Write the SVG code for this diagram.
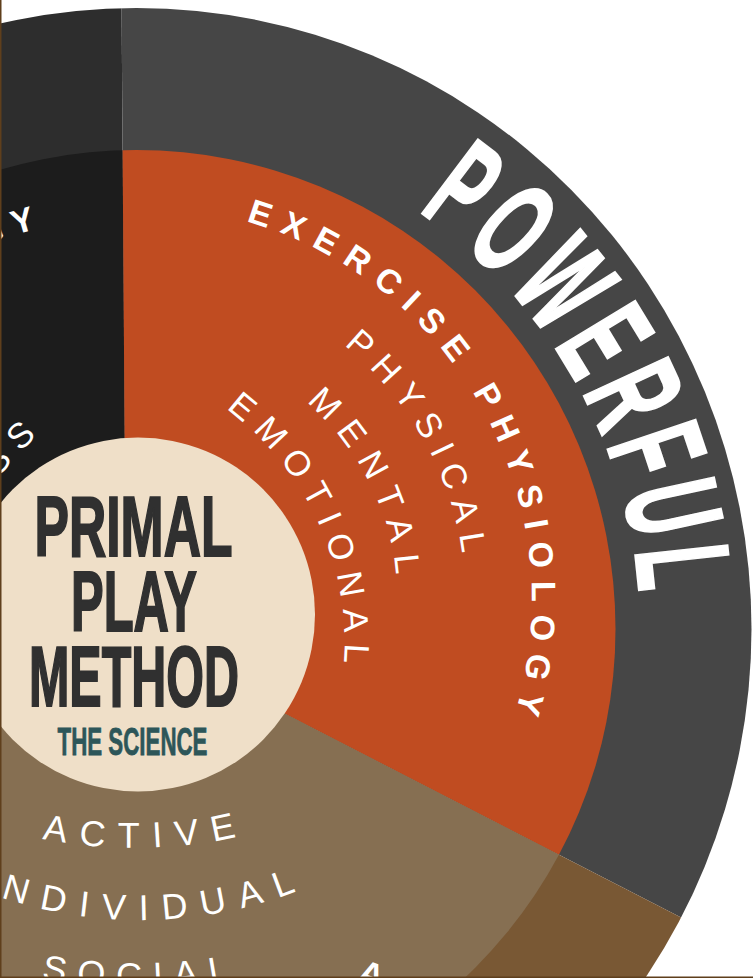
<svg xmlns="http://www.w3.org/2000/svg" width="753" height="978" viewBox="0 0 753 978">
  <defs>
    <style>
      .bold-w { fill: #ffffff; font-family: "Liberation Sans", Arial, sans-serif; font-weight: 700; }
      .thin-w { fill: #ffffff; font-family: "Liberation Sans", Arial, sans-serif; font-weight: 400; }
      .title { fill: #303030; stroke: #303030; stroke-width: 2; font-family: "Liberation Sans Narrow", "Liberation Sans", Arial, sans-serif; font-weight: 700; }
      .sub { fill: #2d5659; stroke: #2d5659; stroke-width: 0.8; font-family: "Liberation Sans Narrow", "Liberation Sans", Arial, sans-serif; font-weight: 700; }
    </style>
    <clipPath id="outerDisk"><ellipse cx="136.5" cy="629" rx="615" ry="621"/></clipPath>
    <clipPath id="innerDisk"><circle cx="136.5" cy="629" r="479"/></clipPath>
    <!-- sector wedges: left / right / bottom -->
    <path id="wedgeLeft" d="M126,632 L-100,760 L-100,-60 L121.1,-60 Z"/>
    <path id="wedgeRight" d="M126,632 L121.1,-60 L900,-60 L900,1030 Z"/>
    <path id="wedgeBottom" d="M126,632 L900,1030 L900,1100 L-100,1100 L-100,760 Z"/>
    <!-- text arcs, clockwise from the leftmost point -->
    <path id="arcHeader" d="M-255.8,600 A393.8,393.8 0 1 1 138,993.8"/>
    <path id="arcHeaderLeft" d="M-246.8,600 A384.8,384.8 0 1 1 138,984.8"/>
    <path id="arcPhysical" d="M-189.5,600 A327.5,327.5 0 1 1 138,927.5"/>
    <path id="arcMental" d="M-121.5,600 A259.5,259.5 0 1 1 138,859.5"/>
    <path id="arcEmotional" d="M-236.5,643 A290.5,290.5 0 1 1 54,933.5"/>
    <path id="arcInnerLeft" d="M-55.5,643 A277.5,277.5 0 1 1 222,920.5"/>
    <path id="arcPowerful" d="M-367.5,629 A504,504 0 1 1 136.5,1133"/>
    <!-- text arcs along the bottom, left to right -->
    <path id="arcActive" d="M-342.4,371 A477,477 0 0 0 611.6,371"/>
    <path id="arcIndividual" d="M-297.6,482 A438,438 0 0 0 578.4,482"/>
    <path id="arcSocial" d="M-388.5,462 A526,526 0 0 0 663.5,462"/>
  </defs>

  <rect width="753" height="978" fill="#ffffff"/>

  <!-- outer ring -->
  <g id="ring-outer" clip-path="url(#outerDisk)">
    <use href="#wedgeLeft" fill="#2d2d2d"/>
    <use href="#wedgeRight" fill="#464646"/>
    <use href="#wedgeBottom" fill="#795834"/>
  </g>

  <!-- inner ring -->
  <g id="ring-inner" clip-path="url(#innerDisk)">
    <use href="#wedgeLeft" fill="#1c1c1c"/>
    <use href="#wedgeRight" fill="#c04c21"/>
    <use href="#wedgeBottom" fill="#866f52"/>
  </g>

  <!-- outer ring label -->
  <g id="label-powerful">
    <text class="bold-w" font-size="134" letter-spacing="16" text-anchor="middle" stroke="#ffffff" stroke-width="2.5">
      <textPath href="#arcPowerful" startOffset="1322.5" textLength="465" lengthAdjust="spacingAndGlyphs">POWERFUL</textPath>
    </text>
  </g>

  <!-- exercise physiology segment -->
  <g id="segment-exercise">
    <text class="bold-w" font-size="34" letter-spacing="12">
      <textPath href="#arcHeader" startOffset="727.6">EXERCISE PHYSIOLOGY</textPath>
    </text>
    <text class="thin-w" font-size="35" letter-spacing="10.3">
      <textPath href="#arcPhysical" startOffset="736.5">PHYSICAL</textPath>
    </text>
    <text class="thin-w" font-size="35" letter-spacing="12">
      <textPath href="#arcMental" startOffset="590">MENTAL</textPath>
    </text>
    <text class="thin-w" font-size="35" letter-spacing="10.75">
      <textPath href="#arcEmotional" startOffset="639.8">EMOTIONAL</textPath>
    </text>
  </g>

  <!-- left segment -->
  <g id="segment-left">
    <text class="bold-w" font-size="34" letter-spacing="9">
      <textPath href="#arcHeaderLeft" startOffset="443.5">GY</textPath>
    </text>
    <text class="thin-w" font-size="35" letter-spacing="10.4">
      <textPath href="#arcInnerLeft" startOffset="176.4">SS</textPath>
    </text>
  </g>

  <!-- bottom segment -->
  <g id="segment-play">
    <text class="thin-w" font-size="36" letter-spacing="13.2">
      <textPath href="#arcActive" startOffset="655.8">ACTIVE</textPath>
    </text>
    <text class="thin-w" font-size="36" letter-spacing="13.7">
      <textPath href="#arcIndividual" startOffset="522">INDIVIDUAL</textPath>
    </text>
    <text class="thin-w" font-size="36" letter-spacing="11.6">
      <textPath href="#arcSocial" startOffset="729.3">SOCIAL</textPath>
    </text>
    <text class="bold-w" font-size="34" transform="translate(356,981) rotate(20)">A</text>
  </g>

  <!-- hub -->
  <g id="hub">
    <circle cx="138" cy="614.5" r="177" fill="#efdfc8"/>
    <text class="title" font-size="86" x="133.5" y="556" text-anchor="middle" textLength="198" lengthAdjust="spacingAndGlyphs">PRIMAL</text>
    <text class="title" font-size="86" x="134" y="631" text-anchor="middle" textLength="126" lengthAdjust="spacingAndGlyphs">PLAY</text>
    <text class="title" font-size="86" x="134" y="706" text-anchor="middle" textLength="210" lengthAdjust="spacingAndGlyphs">METHOD</text>
    <text class="sub" font-size="39" x="132.5" y="755" text-anchor="middle" textLength="150" lengthAdjust="spacingAndGlyphs">THE SCIENCE</text>
  </g>

  <!-- frame edges -->
  <g id="frame" fill="#5f3f1c">
    <rect x="0" y="0" width="1.5" height="978"/>
    <rect x="0" y="976.5" width="753" height="1.5"/>
  </g>
</svg>
